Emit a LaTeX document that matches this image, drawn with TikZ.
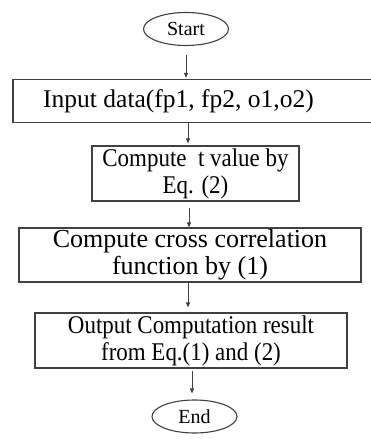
\documentclass[tikz,border=0pt]{standalone}
\usepackage{fontspec}
\setmainfont{Liberation Serif}
\newfontfamily\narrowserif[FakeStretch=0.9]{Liberation Serif}
\usetikzlibrary{shapes.geometric,arrows.meta}

\tikzset{
  line/.style={draw=black!75, line width=1.1bp},
  term/.style={line, ellipse, inner sep=0pt, minimum width=85bp, minimum height=33bp,
               font=\fontsize{20bp}{22bp}\selectfont},
  procbox/.style={line, rectangle, inner sep=0pt, align=center},
  arr/.style={draw=black!75, line width=0.9bp, -{Triangle[length=5bp,width=4bp]}}
}

\begin{document}
\begin{tikzpicture}[x=1bp, y=-1bp]
  \useasboundingbox (0,0) rectangle (370,439);

  % terminals and process steps
  \node[term] (start) at (186,29) {Start};
  \node[procbox, minimum width=367bp, minimum height=43bp,
        font=\fontsize{25.5bp}{28bp}\selectfont] (input) at (196.5,101)
       {Input data(fp1, fp2, o1,o2)\hspace*{36bp}};
  \node[procbox, minimum width=207bp, minimum height=55bp,
        font=\narrowserif\fontsize{25.5bp}{27bp}\selectfont] (tval) at (195.5,173.5)
       {Compute\ \ t value by\\Eq. (2)};
  \node[procbox, minimum width=342bp, minimum height=54bp,
        font=\fontsize{26bp}{27bp}\selectfont] (corr) at (190,255)
       {Compute cross correlation\\function by (1)};
  \node[procbox, minimum width=312bp, minimum height=55bp,
        font=\narrowserif\fontsize{25.5bp}{27bp}\selectfont] (out) at (191,340.5)
       {Output Computation result\\from Eq.(1) and (2)};
  \node[term] (end) at (194.5,416.5) {End};

  % columns of the connecting arrows
  \coordinate (c1) at (186,0);
  \coordinate (c2) at (188,0);
  \coordinate (c3) at (189,0);
  \coordinate (c4) at (188,0);
  \coordinate (c5) at (192,0);

  \draw[arr, shorten <=9bp, shorten >=1bp] (start.south -| c1) -- (input.north -| c1);
  \draw[arr, shorten >=2bp] (input.south -| c2) -- (tval.north -| c2);
  \draw[arr, shorten <=6bp] (tval.south -| c3) -- (corr.north -| c3);
  \draw[arr, shorten >=5bp] (corr.south -| c4) -- (out.north -| c4);
  \draw[arr, shorten <=2bp, shorten >=6bp] (out.south -| c5) -- (end.north -| c5);
\end{tikzpicture}
\end{document}
